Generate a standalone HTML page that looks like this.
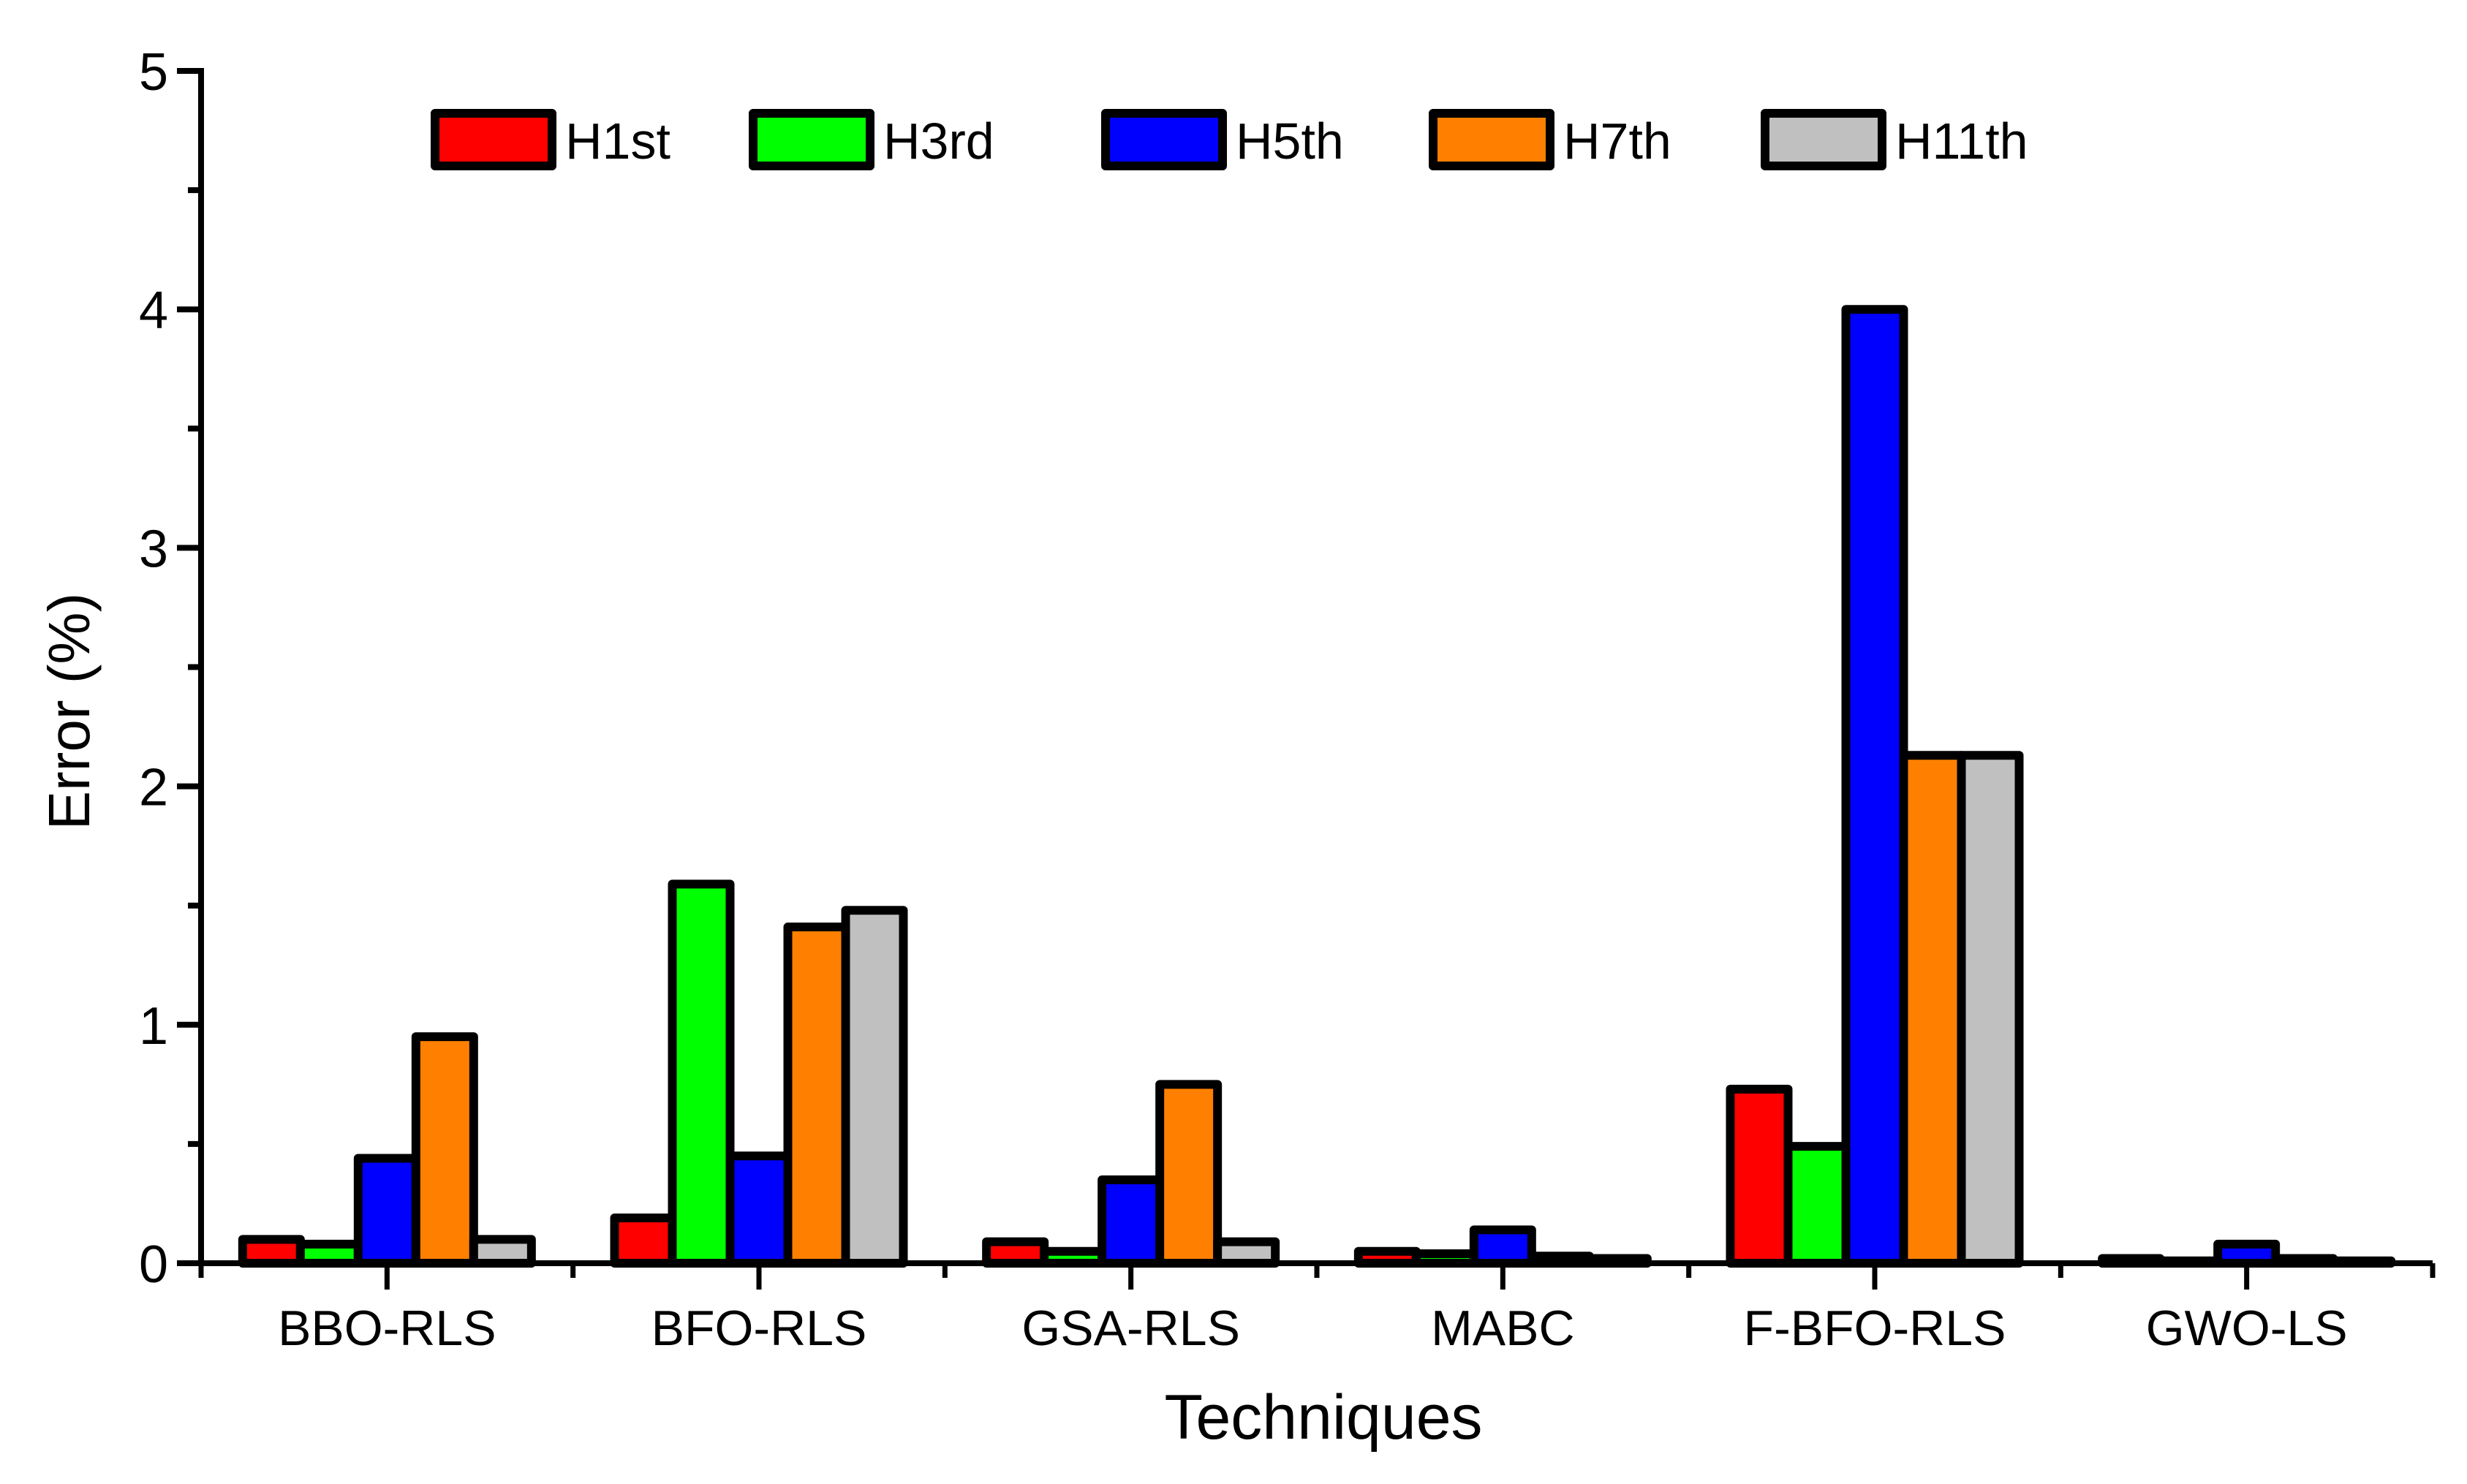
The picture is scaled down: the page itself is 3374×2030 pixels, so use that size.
<!DOCTYPE html>
<html><head><meta charset="utf-8"><style>
html,body{margin:0;padding:0;background:#fff;}
svg{display:block;font-family:"Liberation Sans",Arial,sans-serif;}
</style></head><body>
<svg id="chart" width="3374" height="2030" viewBox="0 0 3374 2030" xmlns="http://www.w3.org/2000/svg">
<g id="plot"></g>
</svg>
<script>
const categories = ["BBO-RLS","BFO-RLS","GSA-RLS","MABC","F-BFO-RLS","GWO-LS"];
const seriesNames = ["H1st","H3rd","H5th","H7th","H11th"];
const seriesColors = ["#ff0000","#00ff00","#0000ff","#ff8000","#c0c0c0"];
const h1st = [0.10,0.19,0.09,0.05,0.73,0.02];
const h3rd = [0.08,1.59,0.05,0.04,0.49,0.01];
const h5th = [0.44,0.45,0.35,0.14,4.00,0.08];
const h7th = [0.95,1.41,0.75,0.03,2.13,0.02];
const h11th = [0.10,1.48,0.09,0.02,2.13,0.01];
const yTicks = [0,1,2,3,4,5];
const series = [h1st,h3rd,h5th,h7th,h11th];

const NS="http://www.w3.org/2000/svg";
const svg=document.getElementById('plot');
const X0=275, X1=3327, Y0=1728, Y5=97;
const catW=(X1-X0)/categories.length;
const barW=79;
function yScale(v){return Y0-(v/5)*(Y0-Y5);}
function xCenter(i){return X0+catW*(i+0.5);}
function mk(tag,attrs){const e=document.createElementNS(NS,tag);for(const k in attrs)e.setAttribute(k,attrs[k]);svg.appendChild(e);return e;}

series.forEach((s,si)=>{
  s.forEach((v,ci)=>{
    const x=xCenter(ci)-2.5*barW+si*barW;
    const y=yScale(v);
    const r=mk('rect',{x:x,y:y,width:barW,height:Math.max(Y0-y,0.5),fill:seriesColors[si],stroke:'#000','stroke-width':12,'stroke-linejoin':'round'});
    
    
  });
});

let a=mk('line',{x1:X0,y1:Y0,x2:X1,y2:Y0,stroke:'#000','stroke-width':8});


a=mk('line',{x1:X0,y1:Y0+4,x2:X0,y2:Y5-4,stroke:'#000','stroke-width':8});



yTicks.forEach(t=>{
  const y=yScale(t);
  const l=mk('line',{x1:X0-33,y1:y,x2:X0,y2:y,stroke:'#000','stroke-width':8});
  
  
  const tx=mk('text',{x:X0-45,y:y+26,'font-size':72,'text-anchor':'end',fill:'#000'});
  tx.textContent=t;
  
  
  if(t<5){
    const ym=yScale(t+0.5);
    const m=mk('line',{x1:X0-18,y1:ym,x2:X0,y2:ym,stroke:'#000','stroke-width':8});
    
    
  }
});

categories.forEach((c,i)=>{
  const x=xCenter(i);
  const l=mk('line',{x1:x,y1:Y0,x2:x,y2:Y0+36,stroke:'#000','stroke-width':7});
  
  
  const tx=mk('text',{x:x,y:1840,'font-size':68,'text-anchor':'middle',fill:'#000'});
  tx.textContent=c;
  
  
});
for(let i=0;i<=categories.length;i++){
  const x=X0+catW*i;
  const m=mk('line',{x1:x,y1:Y0,x2:x,y2:Y0+20,stroke:'#000','stroke-width':7});
  
  
}

let t=mk('text',{x:1810,y:1968,'font-size':86,'text-anchor':'middle',fill:'#000'});
t.textContent='Techniques';


t=mk('text',{x:0,y:0,'font-size':80,'text-anchor':'middle',fill:'#000',transform:'translate(122,973) rotate(-90)'});
t.textContent='Error (%)';



const legX=[595,1030,1512,1960,2414];
seriesNames.forEach((n,i)=>{
  const r=mk('rect',{x:legX[i],y:155,width:160,height:72,fill:seriesColors[i],stroke:'#000','stroke-width':12,'stroke-linejoin':'round'});
  
  
  const tx=mk('text',{x:legX[i]+178,y:217,'font-size':70,fill:'#000'});
  tx.textContent=n;
  
  
});
</script>
</body></html>
